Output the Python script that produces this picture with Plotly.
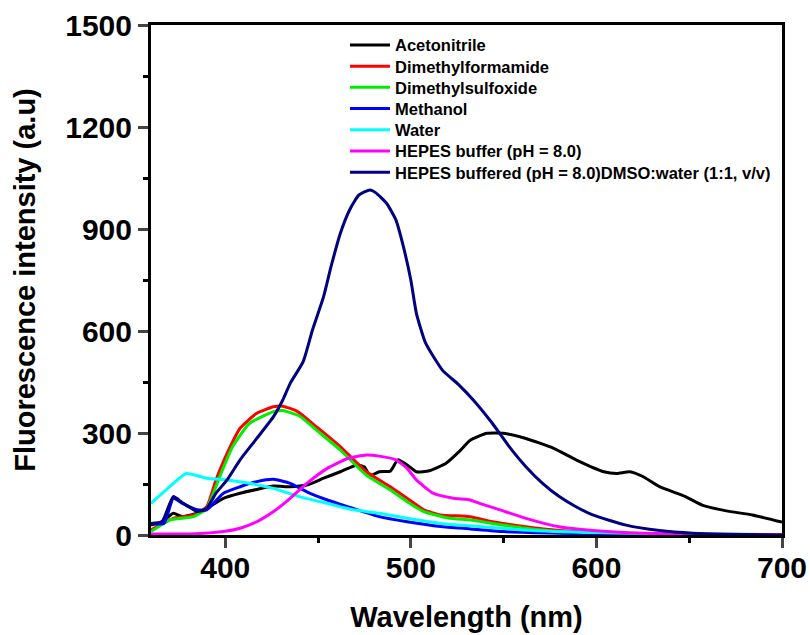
import plotly.graph_objects as go

# ---- data ----
acn_x = [360, 366, 372, 377, 385, 390, 399, 408, 417, 426, 435, 444, 453, 462, 471, 475, 478, 483, 489, 493, 498, 503, 510, 519, 526, 532, 541, 550, 562, 577, 589, 604, 611, 618, 625, 634, 648, 657, 670, 684, 700]
acn_y = [29, 39, 64, 54, 64, 78, 108, 123, 134, 144, 142, 147, 167, 186, 206, 200, 175, 186, 188, 221, 206, 186, 189, 211, 245, 279, 299, 299, 284, 255, 221, 186, 181, 186, 172, 142, 113, 88, 71, 59, 38]

dmf_x = [360, 365, 372, 383, 390, 395, 401, 408, 417, 426, 431, 439, 449, 462, 476, 489, 498, 507, 516, 532, 544, 562, 580, 607, 650, 700]
dmf_y = [15, 30, 49, 59, 83, 162, 240, 314, 358, 377, 379, 363, 319, 260, 186, 142, 108, 74, 59, 54, 39, 24, 13, 5, 1, 0]

dmso_x = [360, 370, 383, 390, 397, 404, 413, 426, 431, 440, 449, 462, 476, 489, 498, 507, 520, 532, 544, 562, 580, 610, 650, 700]
dmso_y = [10, 44, 54, 78, 171, 260, 328, 363, 366, 350, 309, 250, 176, 132, 98, 69, 50, 44, 34, 20, 10, 4, 1, 0]

meoh_x = [360, 367, 372, 377, 385, 390, 399, 408, 417, 426, 435, 444, 455, 469, 483, 498, 516, 532, 550, 580, 620, 700]
meoh_y = [34, 34, 108, 93, 74, 74, 123, 142, 157, 164, 152, 127, 103, 78, 54, 39, 25, 18, 10, 5, 2, 0]

water_x = [360, 368, 379, 390, 401, 413, 426, 440, 455, 469, 483, 498, 516, 532, 560, 600, 650, 700]
water_y = [93, 132, 181, 167, 162, 152, 137, 113, 93, 74, 64, 49, 34, 27, 15, 7, 3, 1]

hepes_x = [360, 381, 399, 408, 417, 426, 435, 444, 455, 466, 476, 483, 492, 498, 503, 512, 523, 532, 537, 548, 562, 580, 598, 625, 660, 700]
hepes_y = [3, 3, 10, 20, 39, 69, 108, 152, 196, 225, 235, 232, 221, 196, 162, 123, 108, 103, 93, 74, 49, 24, 13, 5, 2, 1]

mix_x = [360, 366, 372, 377, 385, 390, 395, 401, 408, 417, 426, 431, 435, 442, 447, 453, 457, 462, 467, 472, 478, 481, 487, 492, 496, 500, 503, 508, 517, 526, 534, 544, 553, 562, 571, 580, 589, 598, 616, 634, 652, 670, 700]
mix_y = [34, 40, 113, 95, 69, 78, 123, 162, 221, 284, 348, 397, 446, 510, 603, 701, 789, 887, 956, 1000, 1015, 1007, 975, 926, 848, 750, 652, 564, 485, 441, 395, 328, 260, 201, 152, 113, 83, 59, 29, 13, 5, 2, 0]

names = ["Acetonitrile", "Dimethylformamide", "Dimethylsulfoxide", "Methanol", "Water",
         "HEPES buffer (pH = 8.0)", "HEPES buffered (pH = 8.0)DMSO:water (1:1, v/v)"]
colors = ["#000000", "#FF0000", "#00EE00", "#0000FF", "#00FFFF", "#FF00FF", "#000080"]
series = [(acn_x, acn_y), (dmf_x, dmf_y), (dmso_x, dmso_y), (meoh_x, meoh_y),
          (water_x, water_y), (hepes_x, hepes_y), (mix_x, mix_y)]

x_ticks = [400, 500, 600, 700]
y_ticks = [0, 300, 600, 900, 1200, 1500]

FONT = "Liberation Sans, Arial, sans-serif"
PLOT_H = 635 - 25 - 100

fig = go.Figure()
legend_layout = {}
for i, ((xs, ys), n, c) in enumerate(zip(series, names, colors)):
    key = "legend" if i == 0 else f"legend{i + 1}"
    fig.add_trace(go.Scatter(x=xs, y=ys, mode="lines", name=n, legend=key,
                             line=dict(color=c, width=3, shape="spline", smoothing=0.5)))
    legend_layout[key] = dict(
        x=0.3074, y=1 - (2.7 + 21.2 * i) / PLOT_H, xanchor="left", yanchor="top",
        bgcolor="rgba(0,0,0,0)", borderwidth=0,
        font=dict(family=FONT, size=16.5, color="black", weight="bold"),
        itemwidth=40,
    )

fig.update_layout(
    width=810, height=635,
    margin=dict(l=151, r=28, t=25, b=100, autoexpand=False),
    paper_bgcolor="white", plot_bgcolor="white",
    font=dict(family=FONT, color="black"),
    showlegend=True,
    **legend_layout,
)
fig.update_xaxes(
    range=[360, 700], tickvals=x_ticks, ticks="outside", ticklen=10, tickwidth=2.5,
    showline=True, linewidth=3, linecolor="black", mirror=True, showgrid=False, zeroline=False,
    automargin=False,
    tickfont=dict(family=FONT, size=30, color="black", weight="bold"),
    ticklabelstandoff=-6,
    minor=dict(dtick=50, tick0=0, ticks="outside", ticklen=5, tickwidth=2.5, tickcolor="black"),
    title=dict(text="<b>Wavelength (nm)</b>", font=dict(family=FONT, size=29, color="black"), standoff=24),
)
fig.update_yaxes(
    range=[0, 1500], tickvals=y_ticks, ticks="outside", ticklen=10, tickwidth=2.5,
    showline=True, linewidth=3, linecolor="black", mirror=True, showgrid=False, zeroline=False,
    automargin=False,
    tickfont=dict(family=FONT, size=30, color="black", weight="bold"),
    minor=dict(dtick=150, tick0=0, ticks="outside", ticklen=5, tickwidth=2.5, tickcolor="black"),
    title=dict(text="<b>Fluorescence intensity (a.u)</b>", font=dict(family=FONT, size=29, color="black"), standoff=22),
)

fig.write_html("out.html")
